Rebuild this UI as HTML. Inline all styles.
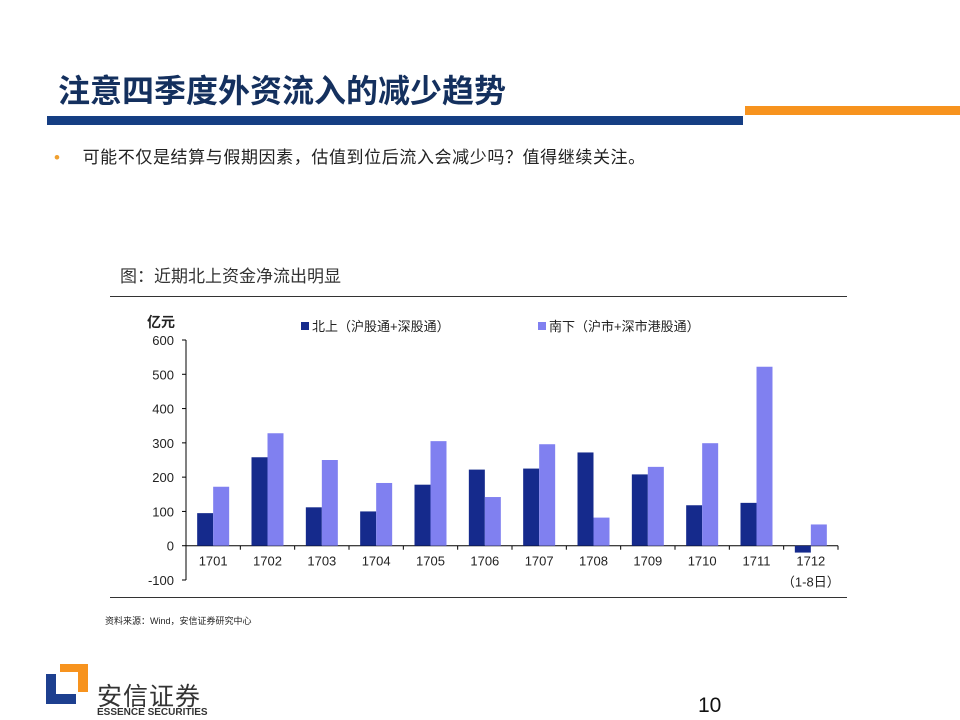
<!DOCTYPE html>
<html><head><meta charset="utf-8"><style>
body{margin:0;width:960px;height:720px;background:#fff;position:relative;overflow:hidden;font-family:"Liberation Sans","Noto Sans CJK SC",sans-serif}
.abs{position:absolute}
</style></head><body>
<div class="abs" style="left:58px;top:66px;font-size:32px;font-weight:bold;color:#14305e;letter-spacing:0px">注意四季度外资流入的减少趋势</div>
<div class="abs" style="left:47px;top:116px;width:696px;height:9px;background:#153e83"></div>
<div class="abs" style="left:745px;top:106px;width:215px;height:9px;background:#f7931e"></div>
<div class="abs" style="left:54px;top:143px;font-size:17px;letter-spacing:0.6px;color:#222"><span style="color:#f0a030;margin-right:22px">•</span>可能不仅是结算与假期因素，估值到位后流入会减少吗？值得继续关注。</div>
<div class="abs" style="left:120px;top:262px;font-size:17px;color:#333">图：近期北上资金净流出明显</div>
<div class="abs" style="left:110px;top:296px;width:737px;height:1px;background:#333"></div>
<div class="abs" style="left:110px;top:597px;width:737px;height:1px;background:#333"></div>
<div class="abs" style="left:105px;top:614px;font-size:9px;color:#222">资料来源：Wind，安信证券研究中心</div>
<svg class="abs" style="left:0;top:0" width="960" height="720" id="chart"></svg>
<svg class="abs" style="left:46px;top:664px" width="44" height="42">
<path d="M0 10 H10 V30 H30 V40 H0 Z" fill="#1d3f8f"/><path d="M14 0 H42 V28 H32 V8 H14 Z" fill="#f7931e"/></svg>
<div class="abs" style="left:97px;top:677px;font-size:25px;color:#333;letter-spacing:1px">安信证券</div>
<div class="abs" style="left:97px;top:707px;font-size:10px;font-weight:bold;color:#333">ESSENCE SECURITIES</div>
<div class="abs" style="left:698px;top:694px;font-size:21px;color:#111">10</div>
<script>
const categories=["1701","1702","1703","1704","1705","1706","1707","1708","1709","1710","1711","1712"];
const northValues=[95,258,112,100,178,222,225,272,208,118,125,-20];
const southValues=[172,328,250,183,305,142,296,82,230,299,522,62];
const yTicks=[600,500,400,300,200,100,0,-100];
const svg=document.getElementById('chart');
const NS='http://www.w3.org/2000/svg';
const x0=186,x1=838,yTop=340,yBot=580,vMax=600,vMin=-100;
const y=v=>yTop+(vMax-v)/(vMax-vMin)*(yBot-yTop);
const step=(x1-x0)/categories.length;
function mk(t,a){const e=document.createElementNS(NS,t);for(const k in a)e.setAttribute(k,a[k]);svg.appendChild(e);return e;}
let ax=mk('line',{x1:x0,y1:yTop,x2:x0,y2:yBot,stroke:'#000'});


let zx=mk('line',{x1:x0,y1:y(0),x2:x1,y2:y(0),stroke:'#000'});


yTicks.forEach(v=>{
 mk('line',{x1:x0-4,y1:y(v),x2:x0,y2:y(v),stroke:'#000'});
 const t=mk('text',{x:x0-12,y:y(v)+5,'text-anchor':'end','font-size':13,fill:'#222'});t.textContent=v;
 
 
});
for(let i=0;i<=categories.length;i++)mk('line',{x1:x0+i*step,y1:y(0),x2:x0+i*step,y2:y(0)+4,stroke:'#000'});
const bw=16;
categories.forEach((c,i)=>{
 const cx=x0+step*(i+0.5);
 const n=northValues[i],s=southValues[i];
 const b1=mk('rect',{x:cx-bw,y:Math.min(y(n),y(0)),width:bw,height:Math.abs(y(n)-y(0)),fill:'#152a8c'});
 
 
 const b2=mk('rect',{x:cx,y:Math.min(y(s),y(0)),width:bw,height:Math.abs(y(s)-y(0)),fill:'#8080f0'});
 
 
 const t=mk('text',{x:cx,y:y(0)+20,'text-anchor':'middle','font-size':13,fill:'#222'});t.textContent=c;
 
 
});
const sub=mk('text',{x:x0+step*11.5,y:y(0)+41,'text-anchor':'middle','font-size':13,fill:'#222'});sub.textContent='（1-8日）';


const unit=mk('text',{x:147,y:327,'font-size':14,'font-weight':'bold',fill:'#222'});unit.textContent='亿元';


const l1=mk('rect',{x:301,y:322,width:8,height:8,fill:'#152a8c'});


const lt1=mk('text',{x:312,y:331,'font-size':13,fill:'#222'});lt1.textContent='北上（沪股通+深股通）';


const l2=mk('rect',{x:538,y:322,width:8,height:8,fill:'#8080f0'});


const lt2=mk('text',{x:549,y:331,'font-size':13,fill:'#222'});lt2.textContent='南下（沪市+深市港股通）';


</script>
</body></html>
